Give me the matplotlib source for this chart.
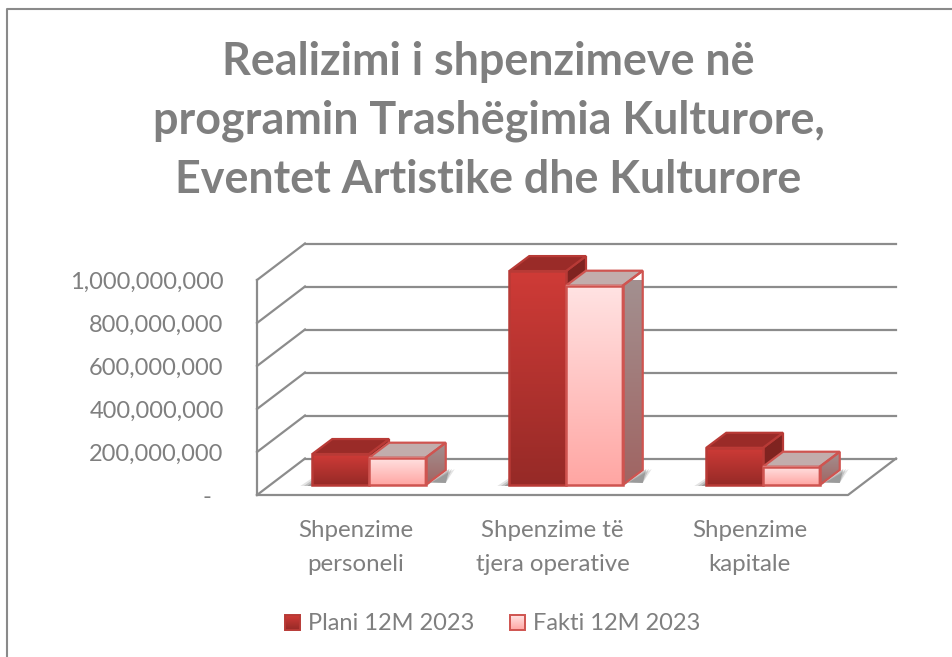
import numpy as np
import matplotlib
matplotlib.use('Agg')
import matplotlib.pyplot as plt
from matplotlib.colors import LinearSegmentedColormap
from matplotlib.patches import Polygon, Rectangle
from matplotlib.transforms import Affine2D
from matplotlib.ticker import FuncFormatter

plt.rcParams['font.family'] = ['Lato', 'DejaVu Sans']

title = 'Realizimi i shpenzimeve në\nprogramin Trashëgimia Kulturore,\nEventet Artistike dhe Kulturore'
categories = ['Shpenzime\npersoneli', 'Shpenzime të\ntjera operative', 'Shpenzime\nkapitale']
plani = [144e6, 995e6, 173e6]
fakti = [127e6, 927e6, 85e6]
series_names = ['Plani 12M 2023', 'Fakti 12M 2023']
y_ticks = [0, 200e6, 400e6, 600e6, 800e6, 1000e6]

W, H = 953, 657
GRAY = '#7f7f7f'
GRID = '#8c8c8c'

fig = plt.figure(figsize=(W / 100, H / 100), dpi=100)
# front plane of the 3d box, in pixels of the reference
ax = fig.add_axes([257 / W, (H - 495) / H, 591 / W, 215 / H])
ax.set_xlim(-0.5, 2.5)
ax.set_ylim(0, 1e9)
ax.patch.set_alpha(0)
for s in ax.spines.values():
    s.set_visible(False)


def oblique(x, y, frac):
    # point of the front plane pushed back into the box, frac is 0..1 of the depth
    px, py = ax.transData.transform((x, y))
    return px + 48 * frac, py + 36.5 * frac


def face(pts, **kw):
    ax.add_patch(Polygon(pts, closed=True, transform=None, clip_on=False, **kw))


def grad_face(cmap, extent, clip, zorder):
    im = ax.imshow(np.linspace(0, 1, 256).reshape(-1, 1), cmap=cmap, extent=extent,
                   aspect='auto', origin='upper', transform=Affine2D(), zorder=zorder)
    if clip is not None:
        im.set_clip_path(clip)
    else:
        im.set_clip_on(False)


# walls and gridlines
for v in y_ticks:
    x0, y0 = ax.transData.transform((-0.5, v))
    xb, yb = oblique(-0.5, v, 1)
    ax.plot([x0, xb], [y0, yb], color=GRID, lw=1.6, transform=None, clip_on=False, zorder=1)
    xe, ye = oblique(2.5, v, 1)
    ax.plot([xb, xe], [yb, ye], color=GRID, lw=1.6, transform=None, clip_on=False, zorder=1)
x0, y0 = ax.transData.transform((-0.5, 0))
x1, y1 = ax.transData.transform((2.5, 0))
xe, ye = oblique(2.5, 0, 1)
ax.plot([x0, x0], [y0, y0 + 215], color=GRID, lw=1.6, transform=None, clip_on=False, zorder=1)
ax.plot([x0, x1, xe], [y0, y1, ye], color=GRID, lw=1.6, transform=None, clip_on=False, zorder=1)

cm_plani = LinearSegmentedColormap.from_list('p', ['#cf3b37', '#962a27'])
cm_fakti = LinearSegmentedColormap.from_list('f', ['#ffe3e3', '#ffa6a3'])
cm_side = LinearSegmentedColormap.from_list('s', ['#a39292', '#a06462'])
edge_p = '#b83a36'
edge_f = '#cf5450'

width = 0.288
# bars stand back from the front edge of the floor
DX, DY = 13.5, 10
DEPTH_X, DEPTH_Y = 20, 15


def draw_bar(x_left, value, cmap, edge, top_col, side_col, z, gradient_side=False):
    a = ax.transData.transform((x_left, 0)) + (DX, DY)
    b = ax.transData.transform((x_left + width, value)) + (DX, DY)
    xa, ya, xb, yb = a[0], a[1], b[0], b[1]
    side = [(xb, ya), (xb + DEPTH_X, ya + DEPTH_Y), (xb + DEPTH_X, yb + DEPTH_Y), (xb, yb)]
    top = [(xa, yb), (xa + DEPTH_X, yb + DEPTH_Y), (xb + DEPTH_X, yb + DEPTH_Y), (xb, yb)]
    # soft shadow on the floor
    for k, al in zip([1.0, 0.7, 0.4], [0.14, 0.2, 0.3]):
        face([(xa - 12 * k, ya - 1), (xb, ya - 1), (xb + DEPTH_X + 9 * k, ya + DEPTH_Y + 1),
              (xb + DEPTH_X, ya + 2), (xa, ya + 7 * k)],
             facecolor='#404040', edgecolor='none', alpha=al, zorder=2)
    if gradient_side:
        poly = Polygon(side, closed=True, transform=None, facecolor='none', edgecolor='none')
        ax.add_patch(poly)
        grad_face(cm_side, (xb, xb + DEPTH_X, ya, yb + DEPTH_Y), poly, z)
        face(side, facecolor='none', edgecolor=edge, lw=1.6, zorder=z + 0.2)
    else:
        face(side, facecolor=side_col, edgecolor=edge, lw=1.6, zorder=z)
    face(top, facecolor=top_col, edgecolor=edge, lw=1.6, zorder=z)
    grad_face(cmap, (xa, xb, ya, yb), None, z + 0.1)
    ax.add_patch(Rectangle((xa, ya), xb - xa, yb - ya, transform=None, facecolor='none',
                           edgecolor=edge, lw=1.8, clip_on=False, zorder=z + 0.2))


for i in range(len(categories)):
    left = i - width
    draw_bar(left, plani[i], cm_plani, edge_p, '#9a2b28', '#7f2320', 3 + i)
    draw_bar(left + width, fakti[i], cm_fakti, edge_f, '#c2adac', None, 3.5 + i, gradient_side=True)

ax.set_xlim(-0.5, 2.5)
ax.set_ylim(0, 1e9)

ax.set_xticks(range(len(categories)))
ax.set_xticklabels(categories, fontsize=17.3, color=GRAY, linespacing=1.75)
ax.tick_params(axis='x', length=0, pad=18)
ax.set_yticks(y_ticks)
ax.yaxis.set_major_formatter(FuncFormatter(lambda v, p: f'{v:,.0f}' if v else '-  '))
ax.tick_params(axis='y', length=0, pad=24, labelsize=17, labelcolor=GRAY)

fig.text(488.5 / W, 1 - 121 / H, title, ha='center', va='center', fontsize=32.3, fontweight='bold',
         color=GRAY, linespacing=1.48)

# overlay in reference pixels: legend and chart frame
lax = fig.add_axes([0, 0, 1, 1], facecolor='none')
lax.axis('off')
for x, name, cmap, edge in [(285, series_names[0], cm_plani, edge_p),
                            (510, series_names[1], cm_fakti, edge_f)]:
    lax.imshow(np.linspace(0, 1, 64).reshape(-1, 1), cmap=cmap, extent=(x, x + 15, 630, 615),
               aspect='auto', zorder=2)
    lax.add_patch(Rectangle((x, 615), 15, 15, facecolor='none', edgecolor=edge, lw=1.4, zorder=3))
    lax.text(x + 23, 624, name, fontsize=17, color=GRAY, va='center', ha='left')
lax.plot([7, 7, W], [H, 8.5, 8.5], color='#8a8a8a', lw=1.5, zorder=1)
lax.set_xlim(0, W)
lax.set_ylim(H, 0)

fig.savefig('out.png', dpi=100)
